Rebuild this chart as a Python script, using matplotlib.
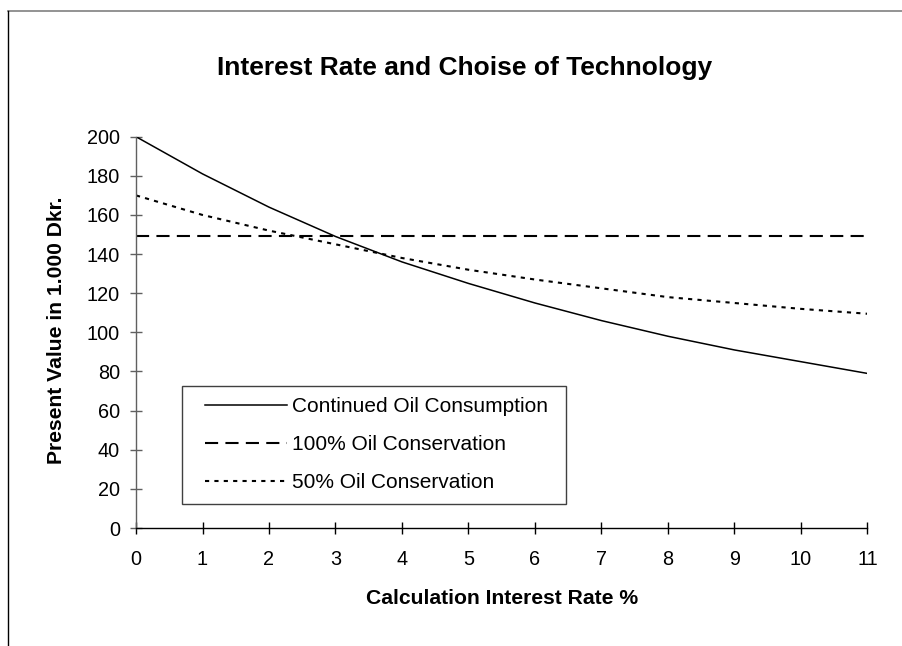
import matplotlib
matplotlib.use("Agg")
import matplotlib.pyplot as plt
from matplotlib.lines import Line2D
from matplotlib.patches import Rectangle

plt.rcParams['font.family'] = ['Liberation Sans', 'DejaVu Sans']

rates = [0, 1, 2, 3, 4, 5, 6, 7, 8, 9, 10, 11]
continued = [200, 181, 164, 149, 136, 125, 115, 106, 98, 91, 85, 79]
conservation_100 = [149] * 12
conservation_50 = [170, 160, 152, 145, 138, 132, 127, 122.5, 118, 115, 112, 109.5]
series_labels = ["Continued Oil Consumption", "100% Oil Conservation", "50% Oil Conservation"]
title = "Interest Rate and Choise of Technology"
xlabel = "Calculation Interest Rate %"
ylabel = "Present Value in 1.000 Dkr."
yticks = [0, 20, 40, 60, 80, 100, 120, 140, 160, 180, 200]

W, H = 903, 646
X0, X1, Y0, Y1 = 136, 867.5, 528, 136.7
fig = plt.figure(figsize=(W / 100, H / 100), dpi=100)
ax = fig.add_axes([X0 / W, 1 - Y0 / H, (X1 - X0) / W, (Y0 - Y1) / H])

def ax_x(px):
    return (px - X0) / (X1 - X0)

def ax_y(py):
    return (Y0 - py) / (Y0 - Y1)

ax.plot(rates, continued, color='black', lw=1.1, solid_joinstyle='miter')
ax.plot(rates, conservation_100, color='black', lw=1.5, linestyle=(0, (6.3, 3.5)))
ax.plot(rates, conservation_50, color='black', lw=1.5, linestyle=(0, (2.0, 2.5)))

ax.set_xlim(0, 11)
ax.set_ylim(0, 200)
ax.set_xticks(rates)
ax.set_yticks(yticks)
for s in ['top', 'right']:
    ax.spines[s].set_visible(False)
ax.spines['left'].set_color('#606060')
ax.spines['bottom'].set_color('black')
ax.spines['left'].set_linewidth(1.0)
ax.spines['bottom'].set_linewidth(1.0)
ax.tick_params(axis='y', direction='inout', length=9, width=1.0, color='#606060', pad=7, labelsize=14.3)
ax.tick_params(axis='x', direction='inout', length=9, width=1.0, color='black', pad=11, labelsize=14.3)

fig.text(465 / W, 1 - 68 / H, title, ha='center', va='center', fontsize=19, fontweight='bold')
fig.text(502 / W, 1 - 598 / H, xlabel, ha='center', va='center', fontsize=15.2, fontweight='bold')
fig.text(57 / W, 1 - 330 / H, ylabel, ha='center', va='center', rotation=90, fontsize=15.2, fontweight='bold')

frame = Rectangle((ax_x(181.7), ax_y(504)), ax_x(566) - ax_x(181.7), ax_y(386) - ax_y(504),
                  transform=ax.transAxes, facecolor='white', edgecolor='#404040', lw=1.0, zorder=4)
ax.add_patch(frame)
leg = ax.legend(series_labels, loc='upper left', bbox_to_anchor=(ax_x(205), ax_y(397)),
                frameon=False, fontsize=15, handlelength=3.94, handletextpad=0.23,
                labelspacing=0.91, borderpad=0, borderaxespad=0)
leg.set_zorder(5)

fig.add_artist(Line2D([8 / W, 1], [1 - 10.5 / H, 1 - 10.5 / H], color='#808080', lw=1.2, transform=fig.transFigure))
fig.add_artist(Line2D([8 / W, 8 / W], [1 - 10.5 / H, 0], color='black', lw=1.0, transform=fig.transFigure))

fig.savefig("out.png", dpi=100, facecolor='white')
